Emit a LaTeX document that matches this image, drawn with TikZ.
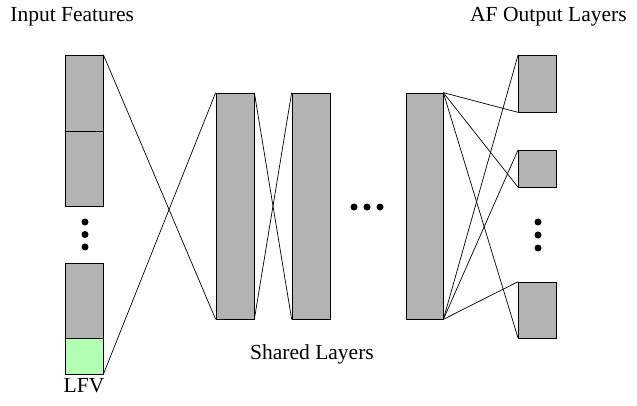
\documentclass[tikz,border=0pt]{standalone}
\usepackage{fontspec}
\setmainfont{Liberation Serif}
\usepackage{tikz}
\definecolor{layergray}{RGB}{179,179,179}
\definecolor{lfvgreen}{RGB}{179,255,179}
\tikzset{layer/.style={draw=black, fill=layergray, inner sep=0pt, minimum width=38pt},
  lfvbox/.style={layer, fill=lfvgreen},
  dotmark/.style={circle, fill=black, inner sep=0pt, minimum size=7pt},
  lbl/.style={font=\fontsize{21.5}{25}\selectfont, inner sep=0pt}}

\begin{document}
\begin{tikzpicture}[x=1pt, y=-1pt, line width=0.7pt]
      \useasboundingbox (0,0) rectangle (637,405);
      % input features
      \node [layer, minimum height=76pt] (in1) at (84,93) {};
      \node [layer, minimum height=75pt] (in2) at (84,168.5) {};
      \node [layer, minimum height=75pt] (in3) at (84,300.5) {};
      \node [lfvbox, minimum height=36pt] (lfv) at (84,356) {};
      \node [dotmark] (d1) at (85,222) {};
      \node [dotmark] (d2) at (85,234.5) {};
      \node [dotmark] (d3) at (85,247) {};
      % shared layers
      \node [layer, minimum height=226pt] (sh1) at (235,206) {};
      \node [layer, minimum height=226pt] (sh2) at (311,206) {};
      \node [dotmark] (d4) at (354,207) {};
      \node [dotmark] (d5) at (367,207) {};
      \node [dotmark] (d6) at (380,207) {};
      \node [layer, minimum height=226pt, minimum width=37pt] (sh3) at (424.5,206) {};
      % output layers
      \node [layer, minimum height=57pt] (out1) at (537.5,83.5) {};
      \node [layer, minimum height=37pt] (out2) at (537.5,168.5) {};
      \node [layer, minimum height=56pt] (out3) at (537.5,310) {};
      \node [dotmark] (d7) at (538,222) {};
      \node [dotmark] (d8) at (538,235) {};
      \node [dotmark] (d9) at (538,248) {};

      \draw (in1.north east) -- (sh1.south west);
      \draw (lfv.south east) -- (sh1.north west);
      \draw (sh1.north east) -- (sh2.south west);
      \draw (sh1.south east) -- (sh2.north west);
      \foreach \o in {out1, out2, out3} {
        \draw (sh3.north east) -- (\o.south west);
        \draw (sh3.south east) -- (\o.north west);
      }

      \node [lbl, anchor=base west] (inlbl) at (10,21) {Input Features};
      \node [lbl, anchor=base east] (outlbl) at (627,21) {AF Output Layers};
      \node [lbl, anchor=base] (shlbl) at (312,359) {Shared Layers};
      \node [lbl, anchor=base] (lfvlbl) at (84,392) {LFV};
    \end{tikzpicture}
\end{document}
